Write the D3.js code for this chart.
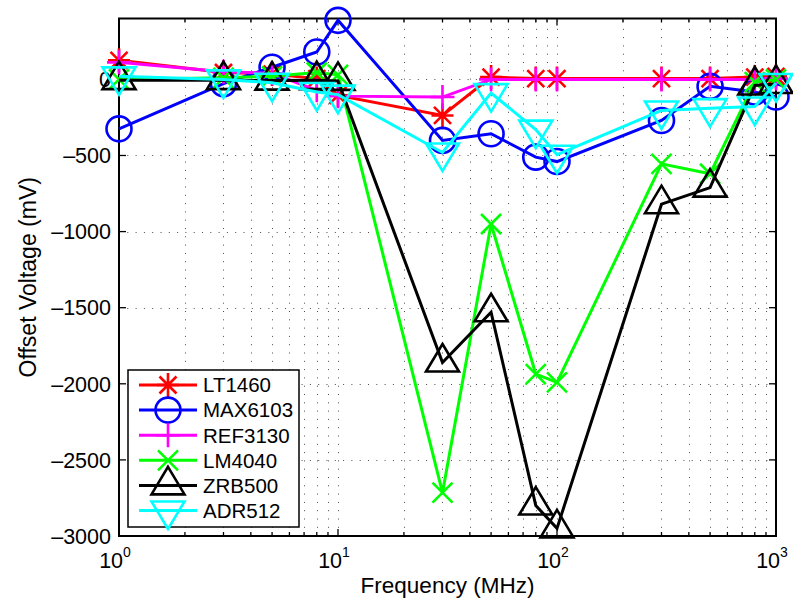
<!DOCTYPE html>
<html>
<head>
<meta charset="utf-8">
<script src="https://cdn.jsdelivr.net/npm/d3@7/dist/d3.min.js"></script>
<style>
  body { margin: 0; background: #fff; }
  svg { font-family: "Liberation Sans", Arial, Helvetica, sans-serif; }
</style>
</head>
<body>
<div id="chart"></div>
<script>
// x values (MHz)
var freqs = [1, 3, 5, 8, 10, 30, 50, 80, 100, 300, 500, 800, 1000];

// offset voltage (mV) per part
var lt1460  = [125, 45, 35, 5, -105, -237, 15, 5, 5, 5, 5, 15, 20];
var max6103 = [-325, -28, 80, 180, 388, -401, -357, -511, -540, -270, -46, -83, -116];
var ref3130 = [112, 50, 40, -72, -110, -116, 0, 0, 0, 0, 0, 0, 5];
var lm4040  = [0, 10, 20, 45, 30, -2715, -950, -1936, -1991, -555, -620, -18, 0];
var zrb500  = [-5, -5, -8, -5, -10, -1860, -1530, -2800, -2950, -820, -711, -40, -30];
var adr512  = [20, 0, -22, -83, -100, -480, -90, -330, -495, -204, -189, -178, -24];

var seriesNames = ["LT1460", "MAX6103", "REF3130", "LM4040", "ZRB500", "ADR512"];
var seriesValues = [lt1460, max6103, ref3130, lm4040, zrb500, adr512];
var seriesColors = ["#ff0000", "#0000ff", "#ff00ff", "#00ff00", "#000000", "#00ffff"];
var seriesMarkers = ["star", "circle", "plus", "cross", "triUp", "triDown"];

var yTicks = [-3000, -2500, -2000, -1500, -1000, -500, 0];
var xMajor = [1, 10, 100, 1000];

var W = 793, H = 602;
var pLeft = 119, pRight = 776, pTop = 18.5, pBottom = 536;

var svg = d3.select("#chart").append("svg")
  .attr("width", W)
  .attr("height", H);

var x = d3.scaleLog().domain([1, 1000]).range([pLeft, pRight]);
var y = d3.scaleLinear().domain([-3000, 400]).range([pBottom, pTop]);

// minor ticks for log axis
var xMinor = [];
[1, 10, 100].forEach(function(d) {
  for (var k = 2; k <= 9; k++) xMinor.push(d * k);
});

// grid (dotted)
var grid = svg.append("g").attr("class", "grid")
  .attr("stroke", "#000")
  .attr("stroke-width", 1)
  .attr("stroke-dasharray", "1,7.3")
  .attr("opacity", 0.7);

grid.selectAll(".gx")
  .data(xMinor.concat([10, 100]))
  .enter().append("line")
  .attr("x1", function(d) { return Math.round(x(d)) + 0.5; })
  .attr("x2", function(d) { return Math.round(x(d)) + 0.5; })
  .attr("y1", pTop + 2)
  .attr("y2", pBottom);

grid.selectAll(".gy")
  .data(yTicks.slice(1))
  .enter().append("line")
  .attr("x1", pLeft)
  .attr("x2", pRight)
  .attr("y1", function(d) { return Math.round(y(d)) + 0.5; })
  .attr("y2", function(d) { return Math.round(y(d)) + 0.5; });

// axes box
var axes = svg.append("g").attr("stroke", "#000").attr("stroke-width", 2).attr("fill", "none");
axes.append("rect")
  .attr("x", pLeft).attr("y", pTop)
  .attr("width", pRight - pLeft).attr("height", pBottom - pTop);

// tick marks (inside, on all four sides)
function tickLines(data, len, isX) {
  data.forEach(function(d) {
    if (isX) {
      var px = x(d);
      axes.append("line").attr("x1", px).attr("x2", px).attr("y1", pBottom).attr("y2", pBottom - len).attr("stroke-width", 1.3);
      axes.append("line").attr("x1", px).attr("x2", px).attr("y1", pTop).attr("y2", pTop + len).attr("stroke-width", 1.3);
    } else {
      var py = y(d);
      axes.append("line").attr("x1", pLeft).attr("x2", pLeft + len).attr("y1", py).attr("y2", py).attr("stroke-width", 1.3);
      axes.append("line").attr("x1", pRight).attr("x2", pRight - len).attr("y1", py).attr("y2", py).attr("stroke-width", 1.3);
    }
  });
}
tickLines(xMajor, 7, true);
tickLines(xMinor, 4, true);
tickLines(yTicks, 7, false);

// y tick labels
svg.append("g").selectAll("text")
  .data(yTicks)
  .enter().append("text")
  .attr("x", pLeft - 8)
  .attr("y", function(d) { return y(d); })
  .attr("dy", "0.36em")
  .attr("text-anchor", "end")
  .style("font-size", "21.5px")
  .text(function(d) { return d < 0 ? "\u2013" + Math.abs(d) : d; });

// x tick labels: 10^n
var xl = svg.append("g").selectAll("text")
  .data(xMajor)
  .enter().append("text")
  .attr("x", function(d) { return x(d) - 4; })
  .attr("y", 568)
  .attr("text-anchor", "middle")
  .style("font-size", "21.5px");
xl.append("tspan").text("10");
xl.append("tspan")
  .attr("dy", -11)
  .style("font-size", "14px")
  .text(function(d) { return Math.round(Math.log10(d)); });

// axis titles
svg.append("text")
  .attr("x", (pLeft + pRight) / 2)
  .attr("y", 593)
  .attr("text-anchor", "middle")
  .style("font-size", "22.5px")
  .text("Frequency (MHz)");

svg.append("text")
  .attr("transform", "translate(36," + ((pTop + pBottom) / 2) + ") rotate(-90)")
  .attr("text-anchor", "middle")
  .style("font-size", "23px")
  .text("Offset Voltage (mV)");

// marker path generator
function markerPath(type) {
  switch (type) {
    case "circle":
      return "M-12.5,0A12.5,12.5 0 1,0 12.5,0A12.5,12.5 0 1,0 -12.5,0Z";
    case "plus":
      return "M-12,0H12M0,-12V12";
    case "cross":
      return "M-10,-10L10,10M-10,10L10,-10";
    case "star":
      return "M-11,0H11M0,-12V12M-8.5,-8.5L8.5,8.5M-8.5,8.5L8.5,-8.5";
    case "triUp":
      return "M0,-18.5L16.5,9L-16.5,9Z";
    case "triDown":
      return "M0,18.5L16.5,-9L-16.5,-9Z";
  }
}

var line = d3.line()
  .x(function(d) { return x(d[0]); })
  .y(function(d) { return y(d[1]); });

var plot = svg.append("g");
seriesValues.forEach(function(vals, i) {
  var pts = freqs.map(function(f, j) { return [f, vals[j]]; });
  var g = plot.append("g");
  g.append("path")
    .datum(pts)
    .attr("d", line)
    .attr("fill", "none")
    .attr("stroke", seriesColors[i])
    .attr("stroke-width", 3)
    .attr("stroke-linejoin", "miter");
  g.selectAll(".m")
    .data(pts)
    .enter().append("path")
    .attr("transform", function(d) { return "translate(" + x(d[0]) + "," + y(d[1]) + ")"; })
    .attr("d", markerPath(seriesMarkers[i]))
    .attr("fill", "none")
    .attr("stroke", seriesColors[i])
    .attr("stroke-width", 2.6);
});

// legend
var lg = svg.append("g");
lg.append("rect")
  .attr("x", 128).attr("y", 370)
  .attr("width", 171).attr("height", 157)
  .attr("fill", "#fff")
  .attr("stroke", "#000")
  .attr("stroke-width", 1.5);

var rows = lg.selectAll(".row")
  .data(seriesNames)
  .enter().append("g")
  .attr("transform", function(d, i) { return "translate(0," + (385 + i * 25.1) + ")"; });

rows.append("line")
  .attr("x1", 139).attr("x2", 197)
  .attr("stroke", function(d, i) { return seriesColors[i]; })
  .attr("stroke-width", 3);

rows.append("path")
  .attr("transform", "translate(168,0)")
  .attr("d", function(d, i) { return markerPath(seriesMarkers[i]); })
  .attr("fill", "none")
  .attr("stroke", function(d, i) { return seriesColors[i]; })
  .attr("stroke-width", 2.6);

rows.append("text")
  .attr("x", 203)
  .attr("dy", "0.36em")
  .style("font-size", "20.5px")
  .text(function(d) { return d; });
</script>
</body>
</html>
